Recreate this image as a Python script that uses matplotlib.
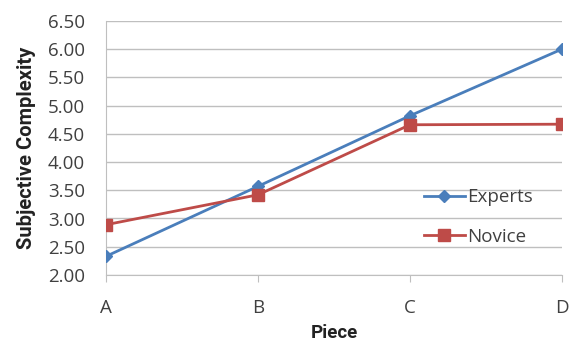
import matplotlib
matplotlib.use("Agg")
import matplotlib.pyplot as plt
import numpy as np

plt.rcParams['font.family'] = ['Open Sans', 'DejaVu Sans']

pieces = ["A", "B", "C", "D"]
experts = [2.33, 3.57, 4.82, 6.00]
novice = [2.89, 3.42, 4.66, 4.67]
yticks = [2.00, 2.50, 3.00, 3.50, 4.00, 4.50, 5.00, 5.50, 6.00, 6.50]

blue = "#4A7EBB"
red = "#BE4B48"
text_gray = "#404040"
grid_gray = "#BFBFBF"

fig = plt.figure(figsize=(5.70, 3.42), dpi=100)
ax = fig.add_axes([0.186, 0.196, 0.800, 0.743])

x = np.arange(len(pieces))
ax.plot(x, experts, color=blue, lw=2, marker="D", ms=6, label="Experts", zorder=3)
ax.plot(x, novice, color=red, lw=2, marker="s", ms=8, label="Novice", zorder=3)

ax.set_xlim(0, len(pieces) - 1)
ax.set_ylim(2.0, 6.5)
ax.set_yticks(yticks)
ax.set_yticklabels([f"{v:.2f}" for v in yticks])
ax.set_xticks(x)
ax.set_xticklabels(pieces)

ax.grid(axis="y", color=grid_gray, lw=1)
ax.set_axisbelow(True)
for side in ("top", "right"):
    ax.spines[side].set_visible(False)
ax.spines["left"].set_color(grid_gray)
ax.spines["bottom"].set_color(grid_gray)
ax.tick_params(axis="y", length=0, pad=15, labelsize=13.5, labelcolor=text_gray)
ax.tick_params(axis="x", length=5, color=grid_gray, pad=12, labelsize=13.5, labelcolor=text_gray)

label_font = dict(family=["Roboto", "DejaVu Sans"], fontweight="bold", color="#222222")
ax.set_xlabel("Piece", labelpad=5, fontsize=13.5, **label_font)
ax.set_ylabel("Subjective Complexity", labelpad=9, fontsize=14.5, **label_font)

ax.legend(loc="upper left", bbox_to_anchor=(0.68, 0.37), frameon=False,
          fontsize=13.5, labelspacing=1.15, handlelength=2.2, handletextpad=0.1,
          labelcolor=text_gray, borderaxespad=0)

fig.savefig("out.png", dpi=100)
